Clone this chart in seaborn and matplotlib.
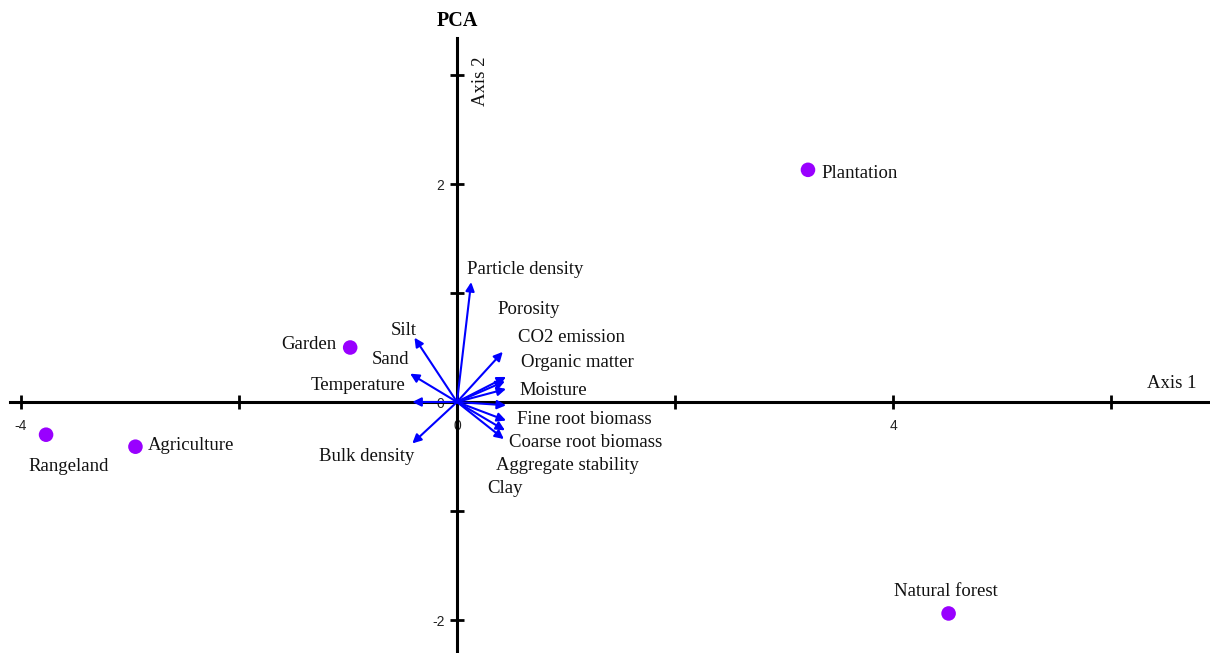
import matplotlib
matplotlib.use("Agg")
import matplotlib.pyplot as plt
import matplotlib.ticker as mticker
import numpy as np
import pandas as pd
import seaborn as sns

# Site scores on the first two principal axes
sites = ["Plantation", "Garden", "Rangeland", "Agriculture", "Natural forest"]
site_pc1 = [3.22, -0.98, -3.77, -2.95, 4.51]
site_pc2 = [2.13, 0.50, -0.30, -0.41, -1.94]

# Variable loadings (arrow tips)
variables = ["Particle density", "Porosity", "CO2 emission", "Organic matter",
             "Moisture", "Fine root biomass", "Coarse root biomass",
             "Aggregate stability", "Clay", "Silt", "Sand", "Temperature",
             "Bulk density"]
load_pc1 = [0.13, 0.42, 0.45, 0.44, 0.45, 0.45, 0.45, 0.44, 0.43,
            -0.39, -0.43, -0.41, -0.41]
load_pc2 = [1.10, 0.46, 0.23, 0.19, 0.12, -0.03, -0.17, -0.26, -0.34,
            0.59, 0.26, 0.00, -0.38]

# Where each variable name is written
var_label_x = [0.09, 0.37, 0.56, 0.59, 0.57, 0.55, 0.48, 0.36, 0.28,
               -0.37, -0.44, -0.47, -0.39]
var_label_y = [1.22, 0.85, 0.59, 0.36, 0.11, -0.16, -0.37, -0.58, -0.79,
               0.66, 0.39, 0.15, -0.50]
var_label_ha = ["left"] * 9 + ["right"] * 4

# Site label offsets in points and alignment
site_offsets = [(10, -2.5), (-10, 2), (16, -23), (9, 0.5), (-2, 15.5)]
site_ha = ["left", "right", "center", "left", "center"]

sns.set_theme(style="white")
plt.rcParams["font.family"] = ["Liberation Serif", "DejaVu Serif"]

fig = plt.figure(figsize=(12.10, 6.53), dpi=100)
ax = fig.add_axes([0, 0, 1, 1])
ax.set_facecolor("white")

unit = 109.0
ax.set_xlim(-457 / unit, (1210 - 457) / unit)
ax.set_ylim(-(653 - 402) / unit, 402 / unit)

# Axes crossing at the origin
for side in ["top", "right"]:
    ax.spines[side].set_visible(False)
ax.spines["bottom"].set_position("zero")
ax.spines["left"].set_position("zero")
ax.spines["bottom"].set_bounds(-4.1, 6.95)
ax.spines["left"].set_bounds(-2.28, 3.34)
for side in ["bottom", "left"]:
    ax.spines[side].set_color("black")
    ax.spines[side].set_linewidth(2.2)

ax.xaxis.set_major_locator(mticker.MultipleLocator(2))
ax.yaxis.set_major_locator(mticker.MultipleLocator(1))
ax.xaxis.set_major_formatter(mticker.FuncFormatter(
    lambda v, p: f"{v:g}" if abs(v) < 5 and round(v) % 4 == 0 else ""))
ax.yaxis.set_major_formatter(mticker.FuncFormatter(
    lambda v, p: f"{v:g}" if round(v) % 2 == 0 and abs(v) < 2.5 else ""))
ax.tick_params(axis="both", direction="inout", length=10, width=2,
               color="black", labelsize=10, labelcolor="#222222")
ax.tick_params(axis="x", pad=7)
ax.tick_params(axis="y", pad=4)
for lab in ax.get_xticklabels() + ax.get_yticklabels():
    lab.set_fontfamily("Liberation Sans")
ax.xaxis.set_ticks_position("bottom")
ax.yaxis.set_ticks_position("left")
ax.grid(False)

label_size = 13.5

# Loading arrows
for vx, vy in zip(load_pc1, load_pc2):
    ax.annotate("", xy=(vx, vy), xytext=(0, 0),
                arrowprops=dict(arrowstyle="-|>", color="#0000ff", lw=1.5,
                                mutation_scale=13, shrinkA=0, shrinkB=0),
                zorder=4)
for name, lx, ly, ha in zip(variables, var_label_x, var_label_y, var_label_ha):
    ax.text(lx, ly, name, ha=ha, va="center", fontsize=label_size,
            color="#111111")

# Site points
df = pd.DataFrame({"site": sites, "pc1": site_pc1, "pc2": site_pc2})
sns.scatterplot(data=df, x="pc1", y="pc2", ax=ax, color="#9900ff", s=110,
                edgecolor="none", zorder=5, legend=False)
for name, x, y, off, ha in zip(sites, site_pc1, site_pc2, site_offsets, site_ha):
    ax.annotate(name, xy=(x, y), xytext=off, textcoords="offset points",
                ha=ha, va="center", fontsize=label_size, color="#111111")

ax.set_xlabel("")
ax.set_ylabel("")
ax.text(6.56, 0.17, "Axis 1", ha="center", va="center", fontsize=label_size,
        color="#111111")
ax.text(0.22, 2.94, "Axis 2", ha="center", va="center", fontsize=label_size,
        rotation=90, color="#111111")
ax.text(0.0, 3.5, "PCA", ha="center", va="center", fontsize=14.5,
        fontweight="bold", color="black")

fig.savefig("out.png", dpi=100, facecolor="white")
